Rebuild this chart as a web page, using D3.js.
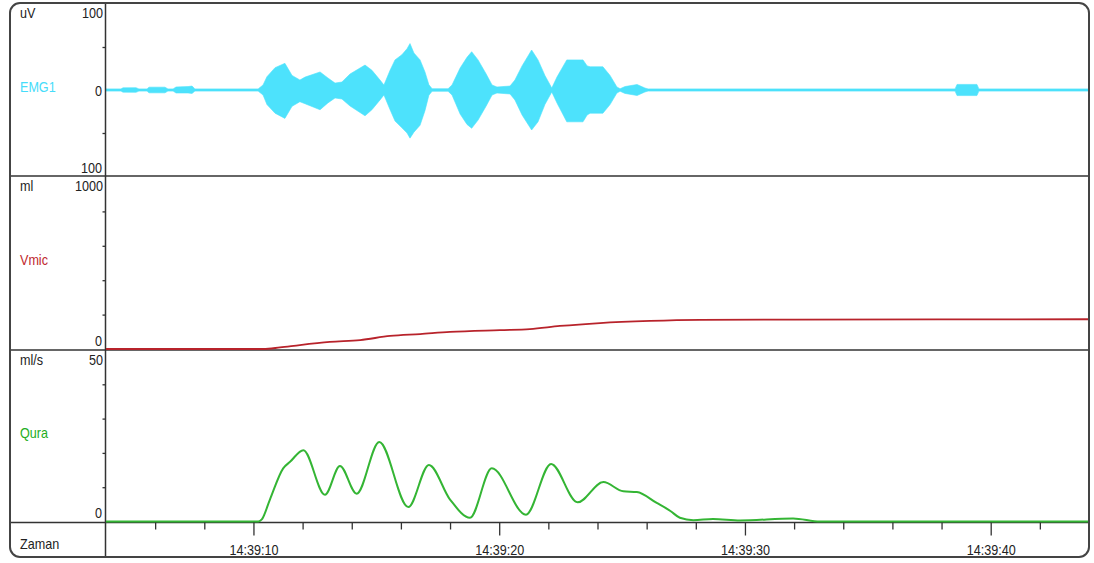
<!DOCTYPE html>
<html>
<head>
<meta charset="utf-8">
<script src="https://cdn.jsdelivr.net/npm/d3@7"></script>
<style>
  html, body { margin: 0; padding: 0; background: #fff; }
  svg { display: block; }
  text { font-family: "Liberation Sans", Arial, sans-serif; font-size: 14px; }
</style>
</head>
<body>
<svg id="chart" width="1094" height="563"></svg>
<script>
// Time is in seconds after 14:39:00.

// EMG1 envelope (uV): upper and lower bound of the raw signal
const emgTime  = [4.00, 4.61, 4.69, 5.22, 5.34, 5.67, 5.75, 6.40, 6.52, 6.73, 6.85, 7.34, 7.50, 7.62,
                  10.19, 10.39, 10.55, 10.88, 11.28, 11.57, 11.89, 12.10, 12.71, 13.03, 13.32, 13.60,
                  13.93, 14.54, 14.82, 15.15, 15.31, 15.56, 15.76, 16.04, 16.25, 16.37, 16.53, 16.78,
                  16.98, 17.14, 17.27, 17.92, 18.08, 18.41, 18.69, 18.88, 19.14, 19.47, 19.71, 19.91,
                  20.44, 20.64, 20.93, 21.32, 21.58, 21.86, 22.14, 22.35, 22.75, 23.41, 23.58, 23.70,
                  24.22, 24.51, 24.79, 24.92, 25.12, 25.61, 25.93, 26.06, 38.55, 38.63, 39.44, 39.52, 44.00];
const emgUpper = [1.3, 1.3, 2.5, 2.7, 1.3, 1.3, 3.3, 3.3, 1.3, 1.3, 3.5, 4.0, 4.6, 1.3,
                  1.3, 5.8, 15.5, 26, 31, 17, 11.6, 15, 21, 14, 8, 9.3,
                  18.6, 29, 23, 11.6, 5.8, 23, 35, 41, 48, 54, 43, 35,
                  21, 6, 1.5, 1.5, 5.8, 25.6, 38, 44.5, 35, 18.6, 5.8, 3.5,
                  4.6, 11.6, 28, 46.5, 35, 17, 2.3, 15, 35, 35, 28, 27,
                  27, 17, 3.5, 1.5, 4, 6.4, 2.3, 1.3, 1.3, 6.5, 6.5, 1.3, 1.3];
const emgLower = [-1.3, -1.3, -2.5, -2.7, -1.3, -1.3, -3.3, -3.3, -1.3, -1.3, -3.5, -3.5, -4, -1.3,
                  -1.3, -5.8, -17, -27, -33, -19, -13.6, -16, -23, -15, -9.3, -10.5,
                  -18.6, -30, -23, -11.6, -5.8, -23, -36, -44, -50, -56, -49, -41,
                  -24, -6, -1.5, -1.5, -5.8, -28, -40, -44.5, -35, -18.6, -5.8, -3.5,
                  -4.6, -11.6, -29, -46.5, -37, -17, -2.3, -15, -37, -37, -29, -27,
                  -27, -17, -3.5, -1.5, -4, -6.4, -2.3, -1.3, -1.3, -6.5, -6.5, -1.3, -1.3];

// Vmic voided volume (ml)
const vmicTime  = [4, 10.4, 11.08, 11.89, 13.11, 14.34, 15.56, 16.78, 18.0, 20.03, 21.25, 22.47, 24.1, 26.14, 28.17, 32.0, 38.0, 44.0];
const vmicValue = [0, 0, 9, 23, 41, 52, 76, 87, 99, 110, 116, 134, 151, 163, 169, 171, 172, 173];

// Qura flow rate (ml/s)
const quraTime  = [4, 10.2, 10.34, 10.67, 11.21, 11.49, 12.03, 12.91, 13.52, 14.20, 15.12, 16.30, 17.14,
                   18.00, 18.81, 19.70, 21.09, 22.11, 23.19, 24.24, 25.05, 25.60, 26.41, 26.98, 27.35,
                   27.90, 28.70, 29.80, 31.96, 33.05, 44];
const quraValue = [0, 0, 0.6, 6.4, 15.5, 17.4, 20.8, 7.8, 16.2, 8.1, 23.2, 4.2, 16.5,
                   6.4, 1.1, 15.5, 2.0, 16.8, 5.6, 11.5, 8.8, 8.6, 5.4, 3.0, 1.1,
                   0.4, 0.7, 0.3, 0.9, 0, 0];

// Time axis
const timeStart = "14:39:04";
const timeEnd   = "14:39:44";
const xMajorTicks = ["14:39:10", "14:39:20", "14:39:30", "14:39:40"];

// Channel axis labels
const emgLabels  = { unit: "uV",   name: "EMG1", top: "100",  zero: "0", bottom: "100" };
const vmicLabels = { unit: "ml",   name: "Vmic", top: "1000", zero: "0" };
const quraLabels = { unit: "ml/s", name: "Qura", top: "50",   zero: "0" };
const emgTicks  = [-50, 50];
const vmicTicks = [200, 400, 600, 800];
const quraTicks = [10, 20, 30, 40];

const svg = d3.select("#chart");
const parse = d3.timeParse("%H:%M:%S");
const t0 = parse("14:39:00");
const toDate = s => new Date(t0.getTime() + s * 1000);

const frame = { left: 10, right: 1089, top: 3, bottom: 557 };
const divX = 105.5;
const plotL = 106, plotR = 1089;

const x = d3.scaleTime().domain([parse(timeStart), parse(timeEnd)]).range([plotL, plotR]);
const yEmg  = d3.scaleLinear().domain([-100, 100]).range([176, 4]);
const yVmic = d3.scaleLinear().domain([0, 1000]).range([349, 177]);
const yQura = d3.scaleLinear().domain([0, 50]).range([521.5, 350]);

const INK = "#333";
const EMG_COLOR = "#4de2fc";
const VMIC_COLOR = "#b8232b";
const QURA_COLOR = "#34b534";

svg.append("defs").append("clipPath").attr("id", "plotClip")
  .append("rect").attr("x", plotL).attr("y", frame.top).attr("width", plotR - plotL).attr("height", frame.bottom - frame.top);

// EMG envelope
const emgData = emgTime.map((t, i) => ({ t: toDate(t), hi: emgUpper[i], lo: emgLower[i] }));
svg.append("path")
  .datum(emgData)
  .attr("clip-path", "url(#plotClip)")
  .attr("fill", EMG_COLOR)
  .attr("stroke", EMG_COLOR)
  .attr("stroke-width", 0.6)
  .attr("d", d3.area().x(d => x(d.t)).y0(d => yEmg(d.lo)).y1(d => yEmg(d.hi)));

// Panel dividers
const grid = svg.append("g").attr("stroke", INK).attr("stroke-width", 1.5);
[176, 350, 522.5].forEach(y => grid.append("line")
  .attr("x1", frame.left).attr("x2", frame.right).attr("y1", y).attr("y2", y));
grid.append("line").attr("x1", divX).attr("x2", divX).attr("y1", frame.top).attr("y2", frame.bottom);

// Vmic line
svg.append("path")
  .datum(vmicTime.map((t, i) => ({ t: toDate(t), v: vmicValue[i] })))
  .attr("clip-path", "url(#plotClip)")
  .attr("fill", "none")
  .attr("stroke", VMIC_COLOR)
  .attr("stroke-width", 1.8)
  .attr("d", d3.line().x(d => x(d.t)).y(d => yVmic(d.v)).curve(d3.curveMonotoneX));

// Qura line
svg.append("path")
  .datum(quraTime.map((t, i) => ({ t: toDate(t), v: quraValue[i] })))
  .attr("clip-path", "url(#plotClip)")
  .attr("fill", "none")
  .attr("stroke", QURA_COLOR)
  .attr("stroke-width", 2)
  .attr("d", d3.line().x(d => x(d.t)).y(d => yQura(d.v)).curve(d3.curveMonotoneX));

// Y-axis ticks on the divider
function yTicks(scale, values) {
  const g = svg.append("g").attr("transform", `translate(${divX},0)`)
    .call(d3.axisLeft(scale).tickValues(values).tickSize(3).tickFormat(""));
  g.select(".domain").remove();
  g.selectAll("line").attr("stroke", INK).attr("stroke-width", 1.3);
}
yTicks(yEmg, emgTicks);
yTicks(yVmic, vmicTicks);
yTicks(yQura, quraTicks);

// Time axis: minor ticks every 2 s, labelled ticks every 10 s
const majorDates = xMajorTicks.map(parse);
const minorDates = d3.timeSecond.every(2).range(parse("14:39:06"), parse(timeEnd))
  .filter(d => !majorDates.some(m => +m === +d));
const minorAxis = svg.append("g").attr("transform", "translate(0,522.5)")
  .call(d3.axisBottom(x).tickValues(minorDates).tickSize(7).tickFormat(""));
minorAxis.select(".domain").remove();
minorAxis.selectAll("line").attr("stroke", INK).attr("stroke-width", 1.3);

const majorAxis = svg.append("g").attr("transform", "translate(0,522.5)")
  .call(d3.axisBottom(x).tickValues(majorDates).tickSize(13).tickPadding(10)
    .tickFormat(d3.timeFormat("%H:%M:%S")));
majorAxis.select(".domain").remove();
majorAxis.selectAll("line").attr("stroke", INK).attr("stroke-width", 1.3);
majorAxis.selectAll("text")
  .attr("fill", "#222")
  .style("font-family", "'Liberation Sans', Arial, sans-serif")
  .style("font-size", "14px")
  .attr("transform", "scale(0.9,1)");

// Text helper: slightly condensed labels
function label(px, py, str, anchor, color) {
  svg.append("text")
    .attr("transform", `translate(${px},${py}) scale(0.9,1)`)
    .attr("text-anchor", anchor)
    .attr("fill", color)
    .text(str);
}
const DARK = "#222";
// EMG1 channel
label(20, 18, emgLabels.unit, "start", DARK);
label(103, 18, emgLabels.top, "end", DARK);
label(20, 92, emgLabels.name, "start", "#46dcfa");
label(102, 96, emgLabels.zero, "end", DARK);
label(102, 173, emgLabels.bottom, "end", DARK);
// Vmic channel
label(20, 191, vmicLabels.unit, "start", DARK);
label(103, 191, vmicLabels.top, "end", DARK);
label(20, 265, vmicLabels.name, "start", "#c0272d");
label(102, 346, vmicLabels.zero, "end", DARK);
// Qura channel
label(20, 365, quraLabels.unit, "start", DARK);
label(103, 365, quraLabels.top, "end", DARK);
label(20, 438, quraLabels.name, "start", "#22ad22");
label(102, 518, quraLabels.zero, "end", DARK);
// Time row
label(20, 549, "Zaman", "start", DARK);

// Outer frame
svg.append("rect")
  .attr("x", frame.left).attr("y", frame.top)
  .attr("width", frame.right - frame.left).attr("height", frame.bottom - frame.top)
  .attr("rx", 10).attr("ry", 10)
  .attr("fill", "none").attr("stroke", "#444").attr("stroke-width", 2);
</script>
</body>
</html>
